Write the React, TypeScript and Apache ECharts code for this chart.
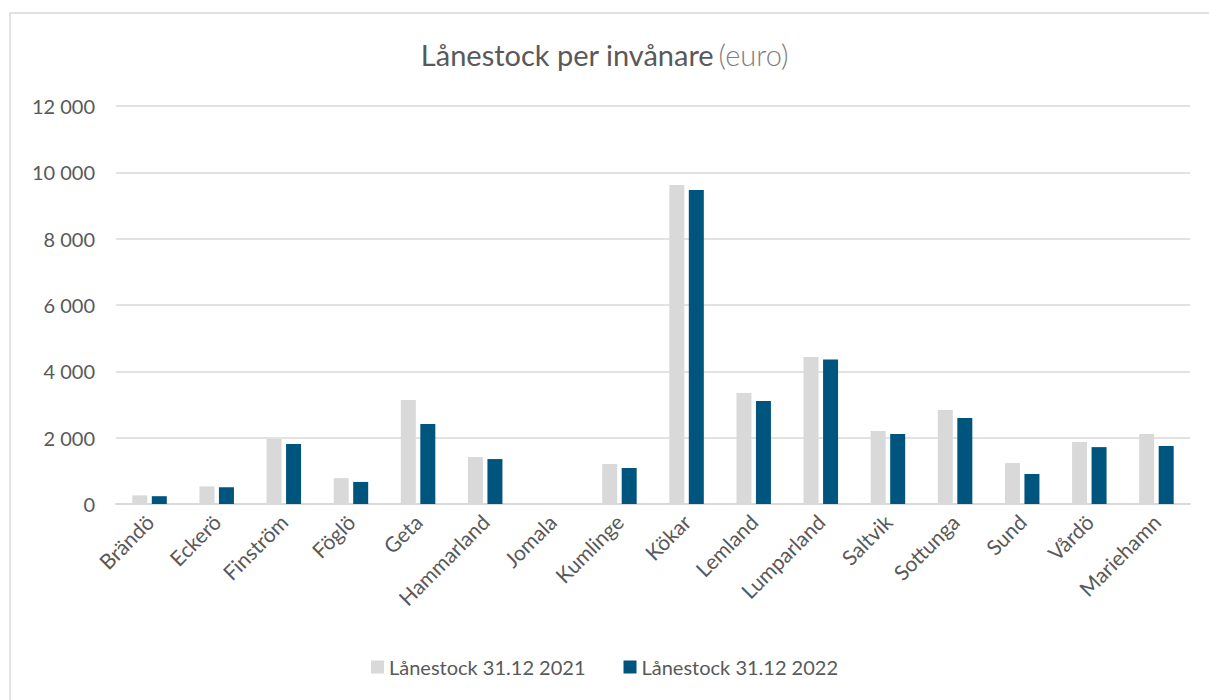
import React, { useEffect, useRef } from "react";
import * as echarts from "echarts";

const categories = ["Brändö", "Eckerö", "Finström", "Föglö", "Geta", "Hammarland", "Jomala", "Kumlinge", "Kökar", "Lemland", "Lumparland", "Saltvik", "Sottunga", "Sund", "Vårdö", "Mariehamn"];
const series2021 = [260, 530, 1960, 780, 3135, 1415, 0, 1205, 9620, 3345, 4430, 2200, 2835, 1235, 1870, 2110];
const series2022 = [235, 505, 1810, 665, 2410, 1355, 0, 1085, 9470, 3105, 4360, 2110, 2595, 905, 1715, 1750];
const seriesNames = ["Lånestock 31.12 2021", "Lånestock 31.12 2022"];
const yTicks = { min: 0, max: 12000, interval: 2000 };

const FONT = "Lato, 'Open Sans', sans-serif";

export default function App() {
  const ref = useRef<HTMLDivElement>(null);
  useEffect(() => {
    if (!ref.current) return;
    const chart = echarts.init(ref.current, null, { renderer: "svg" });
    chart.setOption({
      animation: false,
      backgroundColor: "#ffffff",
      textStyle: { fontFamily: FONT },
      title: {
        text: "{a|Lånestock per invånare} {b|(euro)}",
        left: "center",
        top: 35,
        textStyle: {
          fontWeight: "normal",
          rich: {
            a: { fontSize: 29, color: "#595959", fontFamily: FONT, fontWeight: "normal" },
            b: { fontSize: 29, color: "#808080", fontFamily: FONT, fontWeight: 300 },
          },
        },
      },
      graphic: [
        {
          type: "rect",
          shape: { x: 10, y: 13, width: 1300, height: 800 },
          style: { fill: "none", stroke: "#d9d9d9", lineWidth: 1.5 },
          silent: true,
          z: -1,
        },
      ],
      legend: {
        bottom: 18,
        left: "center",
        itemWidth: 13,
        itemHeight: 13,
        itemGap: 38,
        icon: "rect",
        textStyle: { fontSize: 20, color: "#595959", fontFamily: FONT },
        data: seriesNames,
      },
      grid: { left: 116, right: 19, top: 106, bottom: 196, containLabel: false },
      xAxis: {
        type: "category",
        data: categories,
        axisLine: { lineStyle: { color: "#d9d9d9", width: 2 } },
        axisTick: { show: false },
        axisLabel: { rotate: 45, fontSize: 21, color: "#595959", margin: 14, fontFamily: FONT },
      },
      yAxis: {
        type: "value",
        min: yTicks.min,
        max: yTicks.max,
        interval: yTicks.interval,
        axisLine: { show: false },
        axisTick: { show: false },
        splitLine: { lineStyle: { color: "#d9d9d9", width: 1.5 } },
        axisLabel: {
          fontSize: 20,
          color: "#595959",
          margin: 21,
          fontFamily: FONT,
          formatter: (v: number) => String(v).replace(/\B(?=(\d{3})+(?!\d))/g, " "),
        },
      },
      series: [
        {
          name: seriesNames[0],
          type: "bar",
          data: series2021,
          barWidth: 15,
          barGap: "30%",
          itemStyle: { color: "#d9d9d9" },
        },
        {
          name: seriesNames[1],
          type: "bar",
          data: series2022,
          barWidth: 15,
          itemStyle: { color: "#00557f" },
        },
      ],
    });
    return () => chart.dispose();
  }, []);
  return (
    <div
      ref={ref}
      style={{ position: "fixed", left: 0, top: 0, width: 1209, height: 700 }}
    />
  );
}
